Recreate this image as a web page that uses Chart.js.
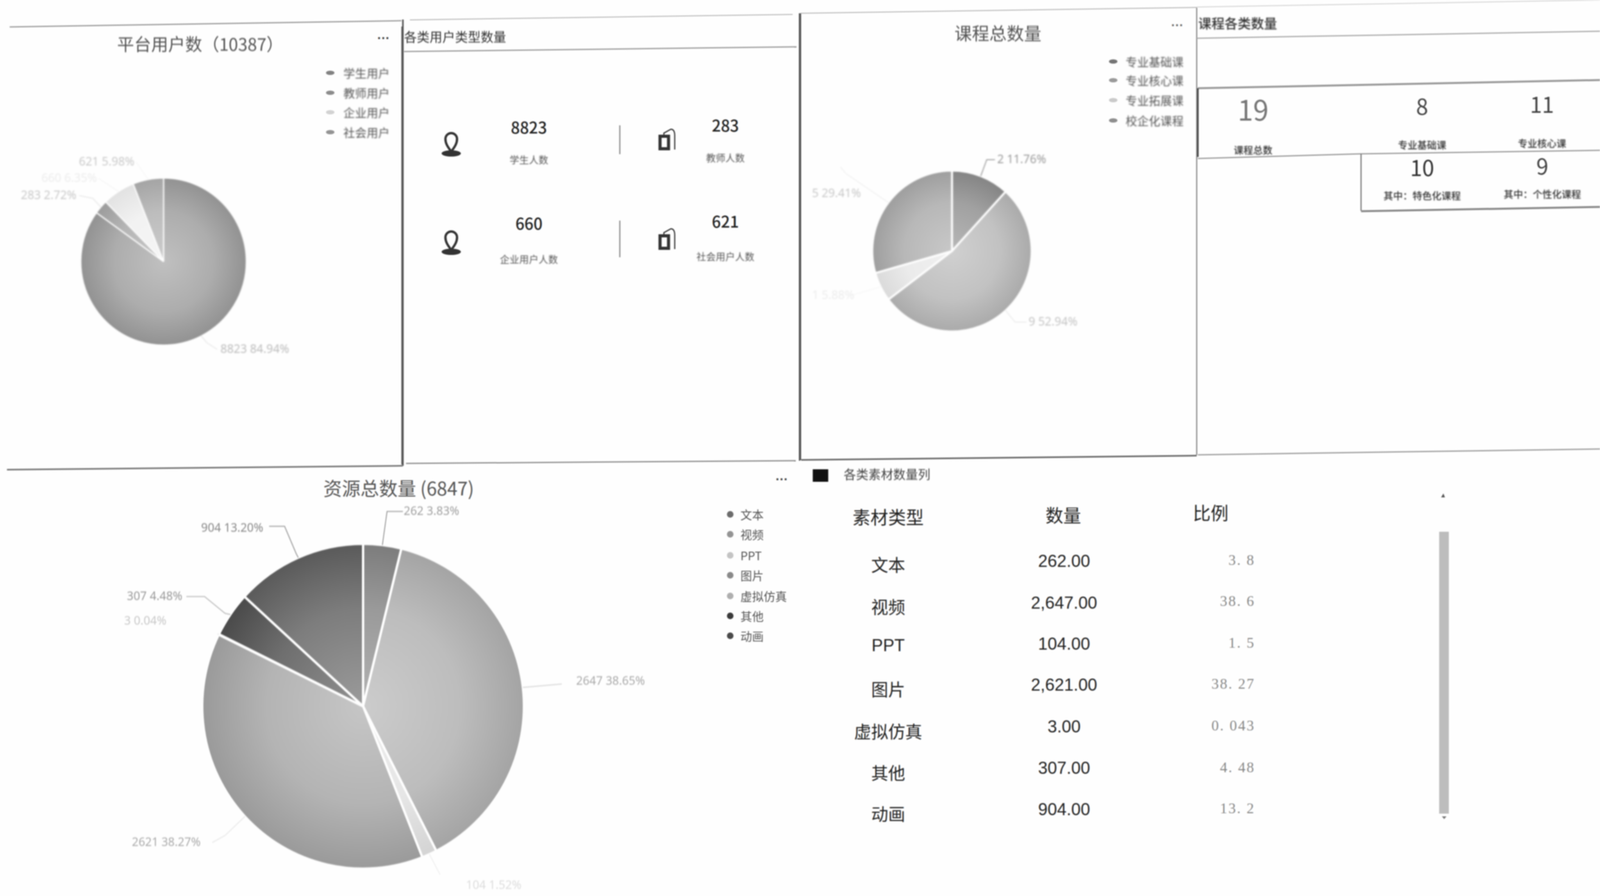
<!DOCTYPE html>
<html lang="zh"><head><meta charset="utf-8">
<script src="https://cdn.jsdelivr.net/npm/chart.js@4/dist/chart.umd.js"></script>
<style>
html,body{margin:0;padding:0;background:#fefefe;overflow:hidden;}
#stage{position:relative;width:4138px;height:2295px;overflow:hidden;background:#fefefe;filter:blur(1.6px);transform-origin:0 0;font-family:"Noto Sans CJK SC","Noto Sans",sans-serif;}
#stage canvas{position:absolute;}
#stage svg{position:absolute;left:0;top:0;}
.t{position:absolute;white-space:nowrap;line-height:1;}
.m{position:absolute;border-radius:50%;}
</style></head><body><div id="stage"></div>
<script>
// ---- data ----
const userLabels=['学生用户','教师用户','企业用户','社会用户'];
const userValues=[8823,283,660,621];
const userGreys=[160,170,240,178];
const courseLabels=['专业基础课','专业核心课','专业拓展课','校企化课程'];
const courseValues=[2,9,1,5];
const courseGreys=[146,184,232,172];
const resourceLabels=['文本','视频','PPT','图片','虚拟仿真','其他','动画'];
const resourceValues=[262,2647,104,2621,3,307,904];
const resourceGreys=[138,178,226,168,205,88,104];
const tableHeads=['素材类型','数量','比例'];
const tableCounts=['262.00','2,647.00','104.00','2,621.00','3.00','307.00','904.00'];
const tableRatios=['3. 8','38. 6','1. 5','38. 27','0. 043','4. 48','13. 2'];
const peopleNums=['8823','283','660','621'];
const peopleNames=['学生人数','教师人数','企业用户人数','社会用户人数'];
const courseCardNums=['19','8','11','10','9'];
const courseCardNames=['课程总数','专业基础课','专业核心课','其中：特色化课程','其中：个性化课程'];

// ---- helpers ----
const stage=document.getElementById('stage');
stage.style.transform='scale('+(window.innerWidth/4138)+','+(window.innerHeight/2295)+')';
function T(text,x,y,o={}){
  const d=document.createElement('div');d.className='t';d.textContent=text;
  const a=o.align||'center';
  d.style.left=x+'px';d.style.top=y+'px';
  d.style.transform='translate('+(a==='center'?'-50%':a==='right'?'-100%':'0')+',-50%)';
  d.style.fontSize=(o.size||30)+'px';d.style.color=o.color||'#444';
  if(o.weight)d.style.fontWeight=o.weight;
  if(o.family)d.style.fontFamily=o.family;
  if(o.spacing)d.style.letterSpacing=o.spacing+'px';
  if(o.blur)d.style.filter='blur('+o.blur+'px)';
  stage.appendChild(d);
}
function grey(g){g=Math.max(0,Math.min(255,Math.round(g)));return 'rgb('+g+','+g+','+g+')';}
function marker(x,y,w,h,c){
  const d=document.createElement('div');d.className='m';
  d.style.cssText+='left:'+(x-w/2)+'px;top:'+(y-h/2)+'px;width:'+w+'px;height:'+h+'px;background:'+c+';';
  stage.appendChild(d);
}
const leaderPlugin={id:'leaders',afterDatasetsDraw(chart,args,opts){
  const c=chart.ctx,meta=chart.getDatasetMeta(0),vals=chart.data.datasets[0].data;
  const sum=vals.reduce((a,b)=>a+b,0);
  c.save();c.textBaseline='middle';c.textAlign='left';c.font=opts.font;
  meta.data.forEach((arc,i)=>{
    const s=opts.spots[i],mid=(arc.startAngle+arc.endAngle)/2;
    const x0=arc.x+arc.outerRadius*Math.cos(mid),y0=arc.y+arc.outerRadius*Math.sin(mid);
    if(s.line){
      c.beginPath();c.moveTo(x0,y0);
      s.line.forEach(p=>c.lineTo(p[0]-opts.left,p[1]-opts.top));
      c.strokeStyle=s.lineColor||s.color;c.lineWidth=2;c.stroke();
    }
    c.fillStyle=s.color;
    c.fillText(vals[i]+' '+(vals[i]/sum*100).toFixed(2)+'%',s.x-opts.left,s.y-opts.top);
  });
  c.restore();
}};
function pie(cx,cy,r,hw,hh,labels,values,greys,spots,border,font,blur){
  const cv=document.createElement('canvas');
  const left=cx-hw,top=cy-hh;
  cv.width=2*hw;cv.height=2*hh;cv.style.left=left+'px';cv.style.top=top+'px';
  cv.style.width=2*hw+'px';cv.style.height=2*hh+'px';
  if(blur)cv.style.filter='blur('+blur+'px)';
  stage.appendChild(cv);
  new Chart(cv,{type:'pie',plugins:[leaderPlugin],data:{labels:labels,datasets:[{data:values,
    backgroundColor(ctx){
      const g=greys[ctx.dataIndex];const a=ctx.chart.chartArea;
      if(!a)return grey(g);
      const X=(a.left+a.right)/2,Y=(a.top+a.bottom)/2;
      const gr=ctx.chart.ctx.createRadialGradient(X,Y,0,X,Y,r);
      gr.addColorStop(0,grey(g+(255-g)*0.34));gr.addColorStop(0.6,grey(g+(255-g)*0.14));gr.addColorStop(1,grey(g-14));
      return gr;
    },borderColor:'#fefefe',borderWidth:border}]},
    options:{responsive:false,animation:false,devicePixelRatio:1,radius:r,
      plugins:{legend:{display:false},tooltip:{enabled:false},leaders:{spots:spots,left:left,top:top,font:font}}}});
}
function legend(labels,greys,mx,tx,ys,size,w,h,blur){
  labels.forEach((l,i)=>{marker(mx,ys[i],w,h,grey(greys[i]-30));T(l,tx,ys[i],{size:size,color:'#555',align:'left',blur:blur});});
}

// ---- frame lines ----
const rules=[
 [25,69,1038,53,3,'#999'],[1042,50,1042,1193,4,'#555'],[18,1203,1042,1193,4,'#777'],
 [1040,68,1040,1190,4,'#555'],[1060,51,2050,37,2,'#aaa'],[1045,132,2060,120,3,'#999'],[2068,34,2068,1180,4,'#555'],[1050,1187,2058,1180,3,'#888'],
 [2070,34,2070,1178,4,'#555'],[2070,34,3095,19,2,'#aaa'],[2072,1178,3095,1167,4,'#666'],[3095,20,3095,1165,3,'#888'],
 [3095,18,4138,0,2,'#ccc'],[3095,98,4138,80,3,'#aaa'],[3098,226,4138,205,5,'#999'],[3098,226,3098,402,4,'#444'],
 [3098,406,3520,394,3,'#999'],[3520,394,4138,385,3,'#999'],[3520,394,3520,540,3,'#777'],[3520,541,4138,530,5,'#888'],[3098,1165,4138,1150,3,'#999'],
 [1603,321,1603,395,3,'#888'],[1603,565,1603,659,3,'#888']
];
let svg='<svg xmlns="http://www.w3.org/2000/svg" width="4138" height="2295">';
rules.forEach(r=>{svg+='<line x1="'+r[0]+'" y1="'+r[1]+'" x2="'+r[2]+'" y2="'+r[3]+'" stroke="'+r[5]+'" stroke-width="'+r[4]+'"/>';});
const pin=(x,y)=>'<g transform="translate('+x+','+y+')" fill="none" stroke="#333" stroke-width="6"><path d="M0 26C-11 12-15 4-15-6a15 15 0 0 1 30 0C15 4 11 12 0 26Z"/><ellipse cx="0" cy="31" rx="25" ry="8" fill="#333" stroke="none"/></g>';
const bld=(x,y)=>'<g transform="translate('+x+','+y+')" fill="none" stroke="#333"><rect x="-18" y="-8" width="22" height="32" stroke-width="8"/><path d="M-8-8V-16L10-26Q20-26 20-10V26" stroke-width="3"/></g>';
svg+=pin(1167,362)+pin(1167,614)+bld(1725,357)+bld(1725,612);
svg+='<rect x="2102" y="1202" width="40" height="32" fill="#111"/>';
svg+='<rect x="3722" y="1362" width="25" height="722" fill="#bdbdbd"/>';
svg+='<path d="M3727 1274L3737 1274L3733 1264Z" fill="#555"/><path d="M3729 2091L3741 2091L3735 2098Z" fill="#777"/>';
svg+='</svg>';
stage.insertAdjacentHTML('beforeend',svg);

const dots={size:32,color:'#333',weight:700,family:'"Liberation Sans"'};

// ---- panel 1 ----
T('平台用户数（10387）',518,111,{size:44,color:'#555',blur:0.8});
T('···',992,97,dots);
legend(userLabels,userGreys,854,888,[186,237,287,338],30,22,11,1.4);
pie(423,670,214,400,480,userLabels,userValues,userGreys,[
 {x:570,y:895,color:'#bbb',lineColor:'#e4e4e4',line:[[535,878],[562,895]]},
 {x:54,y:501,color:'#c8c8c8',lineColor:'#e4e4e4',line:[[240,508],[205,501]]},
 {x:107,y:457,color:'#ececec',lineColor:'#f4f4f4',line:[[255,457]]},
 {x:204,y:415,color:'#c8c8c8',lineColor:'#f6f6f6',line:[[352,415]]}
],3,'30px "Noto Sans"',1.4);

// ---- panel 2 ----
T('各类用户类型数量',1045,93,{size:33,color:'#333',align:'left',blur:0.8});
[[1368,324,408],[1876,319,403],[1368,570,663],[1876,565,656]].forEach((p,i)=>{
  T(peopleNums[i],p[0],p[1],{size:41,color:'#222',weight:500});
  T(peopleNames[i],p[0],p[2],{size:25,color:'#555',blur:1.2});
});

// ---- panel 3 ----
T('课程总数量',2581,83,{size:45,color:'#555',blur:0.8});
T('···',3045,64,Object.assign({},dots,{color:'#666'}));
legend(courseLabels,courseGreys,2879,2911,[157,205,256,308],30,22,11,1.4);
pie(2462,643,206,390,470,courseLabels,courseValues,courseGreys,[
 {x:2579,y:409,color:'#999',lineColor:'#888',line:[[2552,409],[2573,409]]},
 {x:2660,y:825,color:'#c4c4c4',lineColor:'#e8e8e8',line:[[2625,825],[2655,825]]},
 {x:2100,y:757,color:'#ececec',lineColor:'#f6f6f6',line:[[2200,757]]},
 {x:2100,y:496,color:'#c8c8c8',lineColor:'#efefef',line:[[2187,444],[2174,428]]}
],5,'30px "Noto Sans"',1.4);

// ---- panel 4 ----
T('课程各类数量',3099,59,{size:34,color:'#333',weight:500,align:'left',blur:1});
[[3241,278,383,72,'#777'],[3678,270,370,56,'#444'],[3988,265,366,56,'#444'],[3678,427,500,56,'#333'],[3989,423,496,56,'#444']].forEach((p,i)=>{
  T(courseCardNums[i],p[0],p[1],{size:p[3],color:p[4]});
  T(courseCardNames[i],p[0],p[2],{size:25,color:'#333',weight:500,blur:1.2});
});

// ---- resource pie ----
T('资源总数量 (6847)',1031,1248,{size:48,color:'#555'});
T('···',2022,1227,dots);
legend(resourceLabels,resourceGreys,1888,1915,[1317,1368,1422,1473,1526,1577,1628],30,17,17,0.6);
pie(939,1809,416,900,570,resourceLabels,resourceValues,resourceGreys,[
 {x:1044,y:1310,color:'#a0a0a0',lineColor:'#888',line:[[1001,1310],[1042,1310]]},
 {x:1490,y:1745,color:'#aaa',lineColor:'#ccc',line:[[1453,1752]]},
 {x:1205,y:2268,color:'#ddd',lineColor:'#ececec',line:[[1138,2240]]},
 {x:341,y:2158,color:'#aaa',lineColor:'#e4e4e4',line:[[582,2140],[549,2158]]},
 {x:321,y:1591,color:'#c8c8c8',lineColor:'#e4e4e4',line:[[562,1624]]},
 {x:328,y:1528,color:'#999',lineColor:'#aaa',line:[[582,1571],[529,1528],[482,1528]]},
 {x:520,y:1353,color:'#888',lineColor:'#888',line:[[766,1418],[736,1348],[696,1348]]}
],6,'30px "Noto Sans"',0.8);

// ---- table ----
T('各类素材数量列',2182,1213,{size:32,color:'#444',align:'left',blur:0.8});
[[2297,1322],[2750,1317],[3131,1311]].forEach((p,i)=>T(tableHeads[i],p[0],p[1],{size:46,color:'#222'}));
const rowY1=[1445,1553,1653,1764,1872,1978,2083],rowY2=[1437,1544,1649,1754,1861,1967,2073],rowY3=[1434,1539,1646,1751,1858,1965,2070];
resourceLabels.forEach((l,i)=>{
  T(l,2297,rowY1[i],{size:44,color:'#222',family:l==='PPT'?'"Liberation Sans"':undefined});
  T(tableCounts[i],2752,rowY2[i],{size:44,color:'#222',family:'"Liberation Sans"'});
  T(tableRatios[i],3246,rowY3[i],{size:38,color:'#888',align:'right',family:'"Liberation Serif"',spacing:3});
});
</script></body></html>
